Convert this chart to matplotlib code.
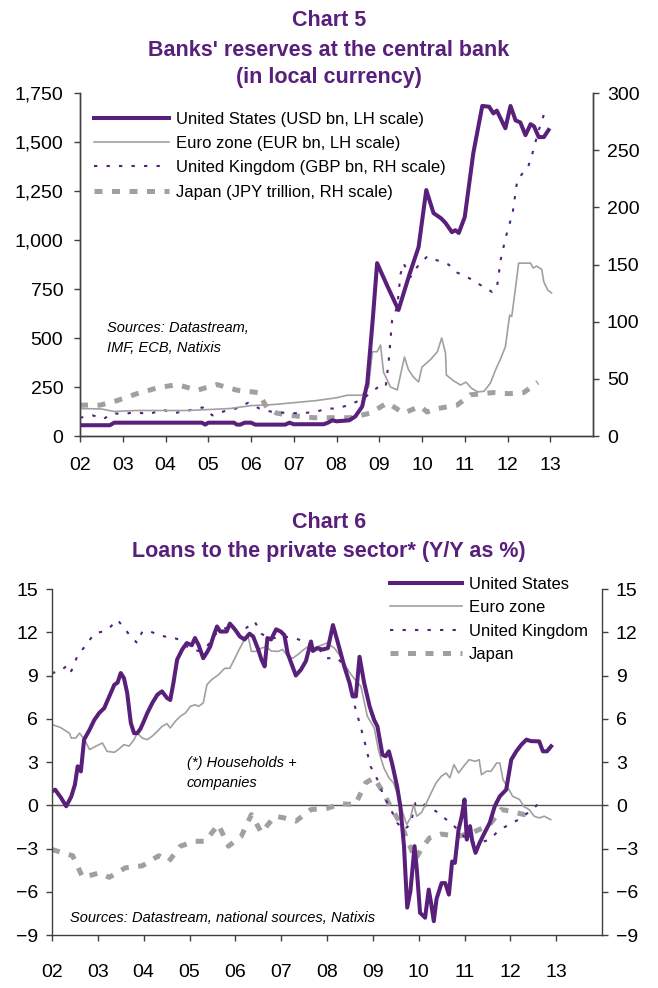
import matplotlib
matplotlib.use("Agg")
import matplotlib.pyplot as plt
import numpy as np

plt.rcParams['font.family'] = ['Liberation Sans', 'DejaVu Sans']

PURPLE = '#58207A'
GRAY = '#A0A0A0'

# ---------------- Chart 5 data ----------------
us5_t = [2002.0, 2002.7, 2002.8, 2004.85, 2004.93, 2005.0, 2005.6, 2005.67, 2005.75, 2005.85, 2006.0, 2006.1,
         2006.8, 2006.9, 2007.0, 2007.7, 2007.8, 2007.9, 2008.0, 2008.3, 2008.44, 2008.6, 2008.72, 2008.85,
         2008.95, 2009.2, 2009.45, 2009.7, 2009.92, 2010.1, 2010.27, 2010.45, 2010.55, 2010.7, 2010.78,
         2010.86, 2011.0, 2011.2, 2011.41, 2011.57, 2011.67, 2011.75, 2011.95, 2012.07, 2012.19, 2012.3,
         2012.42, 2012.54, 2012.62, 2012.73, 2012.85, 2012.96]
us5_v = [55, 55, 68, 68, 58, 68, 68, 58, 58, 68, 68, 58,
         58, 68, 60, 60, 68, 80, 75, 80, 100, 150, 270, 600,
         882, 760, 643, 820, 964, 1255, 1137, 1110, 1087, 1040, 1050,
         1036, 1117, 1443, 1684, 1680, 1646, 1660, 1570, 1684, 1610, 1600,
         1535, 1591, 1580, 1525, 1525, 1561]

eu5_t = [2002.0, 2002.5, 2002.8, 2003.3, 2004.5, 2005.0, 2005.5, 2006.0, 2006.5, 2007.0, 2007.5, 2008.0,
         2008.25, 2008.6, 2008.75, 2008.84, 2008.95, 2009.03, 2009.1, 2009.26, 2009.42, 2009.59, 2009.68,
         2009.8, 2009.92, 2010.0, 2010.2, 2010.36, 2010.46, 2010.55, 2010.57, 2010.75, 2010.9, 2011.03,
         2011.15, 2011.3, 2011.45, 2011.6, 2011.72, 2011.85, 2011.95, 2012.05, 2012.1, 2012.19, 2012.26,
         2012.54, 2012.6, 2012.68, 2012.8, 2012.85, 2012.94, 2013.03]
eu5_v = [140, 138, 125, 130, 130, 135, 140, 155, 160, 170, 180, 195,
         208, 208, 250, 430, 430, 464, 326, 250, 235, 403, 340,
         300, 276, 352, 390, 430, 500, 423, 311, 280, 260, 275,
         245, 225, 228, 270, 337, 400, 455, 617, 610, 760, 882,
         882, 857, 867, 850, 786, 745, 730]

uk5_t = [2002.0, 2002.3, 2002.55, 2002.78, 2003.0, 2003.3, 2003.6, 2003.94, 2004.2, 2004.5, 2004.87, 2005.1,
         2005.4, 2005.65, 2005.93, 2006.2, 2006.5, 2006.9, 2007.2, 2007.5, 2007.78, 2008.0, 2008.28, 2008.6,
         2008.98, 2009.15, 2009.22, 2009.3, 2009.42, 2009.5, 2009.57, 2009.73, 2009.89, 2010.12, 2010.4,
         2010.62, 2010.82, 2011.06, 2011.37, 2011.64, 2011.75, 2011.84, 2011.96, 2012.12, 2012.23, 2012.38,
         2012.48, 2012.59, 2012.71, 2012.85, 2012.9]
uk5_v = [16, 18, 15, 20, 19, 21, 19, 23, 20, 22, 25, 18,
         22, 24, 29, 24, 21, 20, 20, 21, 24, 24, 27, 32,
         43, 43, 65, 101, 113, 142, 151, 139, 148, 157, 153,
         150, 143, 139, 132, 126, 129, 154, 174, 195, 224, 231,
         235, 248, 265, 281, 278]

jp5_t = [2002.0, 2002.47, 2002.87, 2003.33, 2003.8, 2004.27, 2004.74, 2005.2, 2005.68, 2006.17, 2006.37,
         2006.6, 2006.92, 2007.47, 2007.93, 2008.32, 2008.79, 2009.19, 2009.57, 2009.96, 2010.12, 2010.36,
         2010.82, 2011.13, 2011.67, 2012.03, 2012.38, 2012.71]
jp5_v = [27, 27, 31, 37, 42, 45, 40, 45, 40, 38, 25,
         20, 18, 16, 16, 16, 20, 29, 20, 26, 21, 24,
         27, 36, 38, 37, 38, 47]

labels5 = ['United States (USD bn, LH scale)', 'Euro zone (EUR bn, LH scale)',
           'United Kingdom (GBP bn, RH scale)', 'Japan (JPY trillion, RH scale)']

# ---------------- Chart 6 data ----------------
us6_t = [2002.0, 2002.07, 2002.2, 2002.31, 2002.42, 2002.5, 2002.56, 2002.63, 2002.7, 2002.82, 2002.92,
         2003.03, 2003.14, 2003.25, 2003.36, 2003.43, 2003.5, 2003.57, 2003.64, 2003.72, 2003.79, 2003.86,
         2003.93, 2004.0, 2004.08, 2004.19, 2004.3, 2004.4, 2004.51, 2004.58, 2004.65, 2004.73, 2004.84,
         2004.94, 2005.05, 2005.12, 2005.2, 2005.3, 2005.38, 2005.45, 2005.52, 2005.6, 2005.67, 2005.81,
         2005.88, 2005.99, 2006.1, 2006.2, 2006.31, 2006.39, 2006.5, 2006.57, 2006.64, 2006.7, 2006.78,
         2006.89, 2006.99, 2007.07, 2007.14, 2007.22, 2007.32, 2007.43, 2007.54, 2007.65, 2007.69, 2007.79,
         2007.9, 2008.02, 2008.13, 2008.23, 2008.38, 2008.49, 2008.56, 2008.63, 2008.71, 2008.81, 2008.93,
         2009.03, 2009.1, 2009.21, 2009.28, 2009.35, 2009.42, 2009.53, 2009.6, 2009.68, 2009.75, 2009.82,
         2009.91, 2009.96, 2010.03, 2010.14, 2010.22, 2010.27, 2010.33, 2010.39, 2010.5, 2010.58, 2010.66,
         2010.73, 2010.79, 2010.87, 2010.94, 2011.0, 2011.05, 2011.12, 2011.17, 2011.24, 2011.33, 2011.44,
         2011.55, 2011.66, 2011.77, 2011.91, 2012.02, 2012.13, 2012.24, 2012.35, 2012.45, 2012.63, 2012.71,
         2012.8, 2012.89]
us6_v = [0.97, 1.08, 0.5, -0.07, 0.6, 1.43, 2.7, 2.35, 4.55, 5.24, 5.9,
         6.4, 6.74, 7.55, 8.36, 8.5, 9.17, 8.82, 7.8, 5.7, 5.0, 5.0,
         5.3, 5.8, 6.4, 7.1, 7.67, 7.9, 7.44, 7.3, 8.5, 10.1, 10.8,
         11.25, 11.1, 11.6, 11.1, 10.2, 10.6, 11.0, 11.7, 12.4, 12.05, 12.05,
         12.6, 12.2, 11.7, 11.5, 11.9, 11.7, 10.8, 10.1, 9.63, 11.6, 11.5,
         12.2, 12.05, 11.8, 10.55, 9.86, 9.0, 9.4, 10.0, 11.36, 10.7, 10.9,
         10.8, 10.9, 12.5, 11.36, 9.6, 8.5, 7.55, 7.55, 10.3, 8.5, 6.86,
         5.9, 5.47, 3.5, 3.4, 3.74, 2.9, 1.3, -0.07, -2.84, -7.1, -5.96,
         -2.84, -4.46, -7.46, -7.8, -5.85, -6.77, -8.04, -6.5, -5.4, -5.4, -6.2,
         -3.9, -4.0, -1.7, -0.76, 0.4, -2.38, -1.45, -2.5, -3.3, -2.6, -1.9,
         -1.22, -0.07, 0.62, 1.08, 3.16, 3.74, 4.2, 4.55, 4.45, 4.43, 3.74,
         3.74, 4.09]

eu6_t = [2002.0, 2002.18, 2002.38, 2002.42, 2002.52, 2002.6, 2002.7, 2002.82, 2002.96, 2003.1, 2003.2,
         2003.36, 2003.46, 2003.57, 2003.68, 2003.79, 2003.86, 2003.97, 2004.08, 2004.19, 2004.3, 2004.4,
         2004.51, 2004.58, 2004.69, 2004.8, 2004.91, 2005.02, 2005.12, 2005.2, 2005.3, 2005.38, 2005.48,
         2005.63, 2005.77, 2005.88, 2005.99, 2006.1, 2006.2, 2006.28, 2006.35, 2006.46, 2006.57, 2006.68,
         2006.78, 2006.93, 2007.03, 2007.14, 2007.25, 2007.36, 2007.47, 2007.58, 2007.69, 2007.79, 2007.9,
         2008.0, 2008.16, 2008.3, 2008.45, 2008.59, 2008.74, 2008.88, 2009.03, 2009.13, 2009.24, 2009.35,
         2009.45, 2009.56, 2009.63, 2009.74, 2009.82, 2009.89, 2009.96, 2010.06, 2010.17, 2010.27, 2010.38,
         2010.49, 2010.6, 2010.68, 2010.77, 2010.87, 2010.98, 2011.1, 2011.24, 2011.32, 2011.37, 2011.48,
         2011.58, 2011.7, 2011.77, 2011.84, 2011.95, 2012.05, 2012.2, 2012.3, 2012.41, 2012.52, 2012.63,
         2012.74, 2012.88]
eu6_v = [5.6, 5.4, 5.0, 4.66, 4.66, 5.0, 4.6, 3.86, 4.1, 4.32, 3.74,
         3.67, 3.9, 4.2, 4.1, 4.55, 5.0, 4.66, 4.55, 4.8, 5.13, 5.47,
         5.66, 5.36, 5.82, 6.17, 6.4, 6.86, 6.97, 6.86, 7.1, 8.36, 8.7,
         9.05, 9.5, 9.5, 10.2, 10.9, 11.5, 11.7, 10.67, 10.67, 10.9, 11.0,
         10.7, 10.67, 10.8, 10.37, 10.2, 10.44, 10.74, 11.0, 10.9, 11.0, 11.13,
         11.25, 10.9, 10.3, 9.4, 8.8, 8.25, 6.17, 5.36, 3.74, 2.6, 1.9,
         1.55, 0.62, -0.3, -1.34, -0.88, 0.05, -0.76, -0.5, 0.16, 0.85, 1.55,
         2.0, 2.24, 1.9, 2.82, 2.24, 2.7, 3.16, 3.05, 3.16, 2.12, 2.36,
         2.36, 2.93, 2.93, 1.78, 1.2, 0.62, 0.4, -0.1, -0.3, -0.76, -0.88,
         -0.76, -1.0]

uk6_t = [2002.0, 2002.18, 2002.35, 2002.42, 2002.56, 2002.74, 2002.92, 2003.1, 2003.25, 2003.43, 2003.57,
         2003.72, 2003.86, 2003.97, 2004.15, 2004.33, 2004.47, 2004.58, 2004.76, 2004.9, 2005.05, 2005.2,
         2005.38, 2005.52, 2005.67, 2005.81, 2005.95, 2006.1, 2006.24, 2006.42, 2006.57, 2006.71, 2006.86,
         2007.07, 2007.29, 2007.5, 2007.65, 2007.79, 2007.97, 2008.23, 2008.45, 2008.56, 2008.67, 2008.81,
         2008.95, 2009.1, 2009.24, 2009.38, 2009.53, 2009.67, 2009.82, 2009.93, 2010.03, 2010.17, 2010.38,
         2010.56, 2010.74, 2010.92, 2011.1, 2011.33, 2011.55, 2011.7, 2011.84, 2012.05, 2012.24, 2012.38,
         2012.52, 2012.63]
uk6_v = [9.17, 9.3, 9.75, 9.3, 10.4, 11.1, 11.9, 12.05, 12.3, 12.86, 12.3,
         11.7, 11.25, 12.05, 12.05, 11.8, 11.7, 11.7, 11.5, 11.1, 10.8, 10.7,
         11.0, 11.7, 12.17, 12.3, 12.17, 11.9, 12.3, 12.75, 11.9, 11.6, 11.6,
         11.7, 11.6, 11.36, 11.13, 11.0, 10.2, 10.2, 9.4, 7.4, 6.17, 4.55,
         2.7, 1.78, 0.62, -0.2, -1.22, -1.7, -1.34, 0.16, 0.28, -0.07, -0.42,
         -0.88, -1.34, -1.9, -2.6, -2.6, -2.38, -1.9, -1.57, -1.22, -0.88, -0.53,
         -0.18, 0.16]

jp6_t = [2002.0, 2002.45, 2002.67, 2003.03, 2003.25, 2003.6, 2003.97, 2004.33, 2004.55, 2004.8, 2005.12,
         2005.34, 2005.63, 2005.85, 2006.13, 2006.35, 2006.57, 2006.86, 2007.07, 2007.32, 2007.65, 2008.02,
         2008.3, 2008.62, 2008.84, 2009.03, 2009.21, 2009.42, 2009.6, 2009.75, 2009.93, 2010.07, 2010.24,
         2010.49, 2010.87, 2011.16, 2011.41, 2011.58, 2011.8, 2012.02, 2012.3, 2012.41]
jp6_v = [-3.07, -3.5, -5.0, -4.7, -5.0, -4.34, -4.2, -3.5, -3.88, -2.84, -2.5,
         -2.5, -1.34, -2.84, -2.15, -0.65, -1.9, -0.76, -0.88, -1.1, -0.3, -0.2,
         0.1, 0.05, 1.55, 1.9, 0.97, -0.3, -1.22, -2.38, -3.76, -2.96, -2.26,
         -2.0, -2.15, -1.9, -1.57, -1.22, -0.3, -0.42, -0.65, -0.65]

labels6 = ['United States', 'Euro zone', 'United Kingdom', 'Japan']

year_ticks = list(range(2002, 2014))
year_labels = ['02', '03', '04', '05', '06', '07', '08', '09', '10', '11', '12', '13']

# ---------------- Figure ----------------
W, H = 658, 988
fig = plt.figure(figsize=(W / 100, H / 100), dpi=100)

def fx(px):
    return px / W

def fy(py):
    return 1 - py / H

TICK_FS = 14
LEG_FS = 12
TITLE_FS = 15.5
SRC_FS = 10.5
SPINE = '#404040'

def style_axes(a, right_visible=True):
    a.spines['top'].set_visible(False)
    for s in ['left', 'bottom', 'right']:
        a.spines[s].set_color(SPINE)
        a.spines[s].set_linewidth(1.0)
    a.spines['right'].set_visible(right_visible)
    a.tick_params(direction='out', length=4, width=1.0, color=SPINE, labelsize=TICK_FS, pad=6)

US_LW, EU_LW, UK_LW, JP_LW = 2.9, 1.2, 1.5, 3.6
UK_DASH = (1.6, 4.4)
JP_DASH = (1.6, 1.9)

# ---- Chart 5 ----
ax5 = fig.add_axes([fx(80), fy(436), fx(513), 343 / H])
ax5r = ax5.twinx()
ax5.set_zorder(ax5r.get_zorder() + 1)
ax5.patch.set_visible(False)

l_jp, = ax5r.plot(jp5_t, jp5_v, color=GRAY, lw=JP_LW, dashes=JP_DASH, label=labels5[3])
l_uk, = ax5r.plot(uk5_t, uk5_v, color=PURPLE, lw=UK_LW, dashes=UK_DASH, label=labels5[2])
l_eu, = ax5.plot(eu5_t, eu5_v, color=GRAY, lw=EU_LW, label=labels5[1])
l_us, = ax5.plot(us5_t, us5_v, color=PURPLE, lw=US_LW, label=labels5[0])

ax5.set_xlim(2002, 2014)
ax5.set_ylim(0, 1750)
ax5r.set_ylim(0, 300)
ax5.set_yticks(range(0, 1751, 250))
ax5.set_yticklabels([f'{v:,}' for v in range(0, 1751, 250)])
ax5r.set_yticks(range(0, 301, 50))
ax5.set_xticks(year_ticks)
ax5.set_xticklabels(year_labels)
style_axes(ax5)
style_axes(ax5r)
ax5.tick_params(axis='y', pad=8)
ax5.tick_params(axis='x', pad=11)

ax5.legend([l_us, l_eu, l_uk, l_jp], labels5, loc='upper left',
           bbox_to_anchor=(fx(94), fy(112)), bbox_transform=fig.transFigure,
           frameon=False, fontsize=LEG_FS, handlelength=4.5, handletextpad=0.4,
           labelspacing=0.55, borderpad=0, borderaxespad=0)

fig.text(0.5, fy(20), 'Chart 5', ha='center', va='center', fontsize=TITLE_FS,
         fontweight='bold', color=PURPLE)
fig.text(0.5, fy(50), "Banks' reserves at the central bank", ha='center', va='center',
         fontsize=TITLE_FS, fontweight='bold', color=PURPLE)
fig.text(0.5, fy(78), '(in local currency)', ha='center', va='center', fontsize=TITLE_FS,
         fontweight='bold', color=PURPLE)
fig.text(fx(107), fy(328), 'Sources: Datastream,', ha='left', va='center', fontsize=SRC_FS,
         style='italic')
fig.text(fx(107), fy(348), 'IMF, ECB, Natixis', ha='left', va='center', fontsize=SRC_FS,
         style='italic')

# ---- Chart 6 ----
ax6 = fig.add_axes([fx(52), fy(935), fx(550), 346 / H])
ax6.axhline(0, color='#555555', lw=1.0, zorder=1)
m_jp, = ax6.plot(jp6_t, jp6_v, color=GRAY, lw=JP_LW, dashes=JP_DASH, label=labels6[3])
m_uk, = ax6.plot(uk6_t, uk6_v, color=PURPLE, lw=UK_LW, dashes=UK_DASH, label=labels6[2])
m_eu, = ax6.plot(eu6_t, eu6_v, color=GRAY, lw=EU_LW, label=labels6[1])
m_us, = ax6.plot(us6_t, us6_v, color=PURPLE, lw=US_LW, label=labels6[0])
ax6.set_xlim(2002, 2014)
ax6.set_ylim(-9, 15)
ax6.set_yticks(range(-9, 16, 3))
ax6.set_xticks(year_ticks)
ax6.set_xticklabels(year_labels)
style_axes(ax6)
ax6.tick_params(axis='y', left=True, right=True, labelleft=True, labelright=True)
ax6.tick_params(axis='x', pad=17)

ax6.legend([m_us, m_eu, m_uk, m_jp], labels6, loc='upper left',
           bbox_to_anchor=(fx(390), fy(577)), bbox_transform=fig.transFigure,
           frameon=False, fontsize=LEG_FS, handlelength=4.3, handletextpad=0.45,
           labelspacing=0.5, borderpad=0, borderaxespad=0)

fig.text(0.5, fy(523), 'Chart 6', ha='center', va='center', fontsize=TITLE_FS,
         fontweight='bold', color=PURPLE)
fig.text(0.5, fy(551), 'Loans to the private sector* (Y/Y as %)', ha='center', va='center',
         fontsize=TITLE_FS, fontweight='bold', color=PURPLE)
fig.text(fx(187), fy(763), '(*) Households +', ha='left', va='center', fontsize=SRC_FS,
         style='italic')
fig.text(fx(187), fy(783), 'companies', ha='left', va='center', fontsize=SRC_FS,
         style='italic')
fig.text(fx(70), fy(918), 'Sources: Datastream, national sources, Natixis', ha='left',
         va='center', fontsize=SRC_FS, style='italic')

fig.savefig('out.png', dpi=100)
